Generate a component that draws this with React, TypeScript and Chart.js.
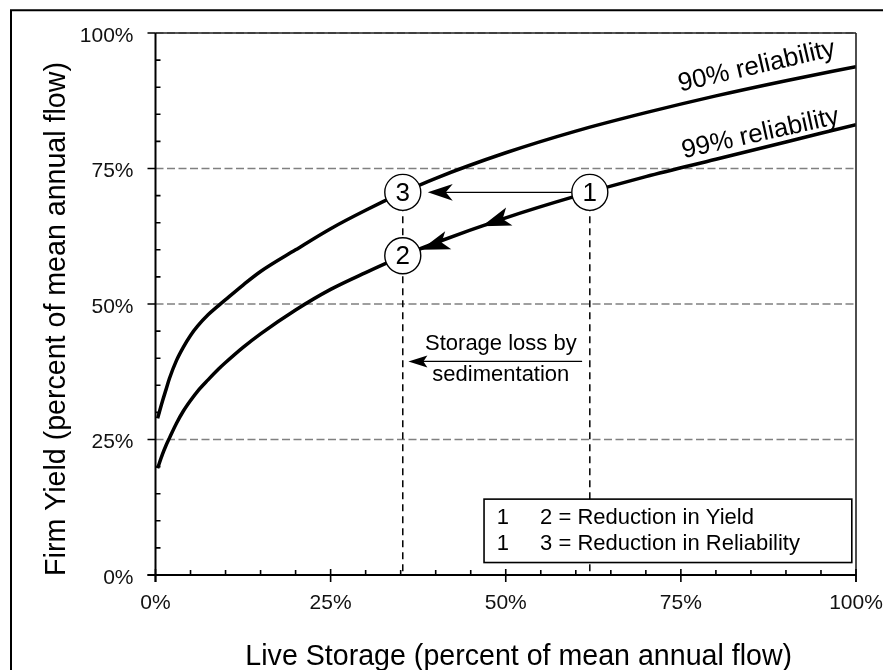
import React, { useEffect, useRef } from 'react';
import { Chart, registerables } from 'chart.js';

Chart.register(...registerables);

// ---- data ----
const storage = [0.3, 1, 1.5, 2, 3, 4, 5, 6, 7.5, 9, 10, 12.5, 15, 20, 25, 30, 35, 40, 50, 60, 70, 80, 90, 100];
const yield90 = [28.9, 32.1, 34.2, 36.3, 39.6, 42.1, 44.2, 45.9, 48.0, 49.7, 50.8, 53.5, 56.0, 60.0, 63.9, 67.3, 70.4, 73.2, 77.9, 81.9, 85.3, 88.4, 91.2, 93.8];
const yield99 = [19.7, 22.3, 23.9, 25.3, 28.0, 30.3, 32.2, 33.9, 36.0, 38.0, 39.2, 42.0, 44.5, 48.9, 52.7, 55.8, 58.7, 61.3, 65.9, 69.9, 73.5, 76.7, 79.9, 83.1];
const xTicks = [0, 25, 50, 75, 100];
const yTicks = [0, 25, 50, 75, 100];
const minorStep = 5;
const xTitle = 'Live Storage (percent of mean annual flow)';
const yTitle = 'Firm Yield (percent of mean annual flow)';
const curveLabels = ['90% reliability', '99% reliability'];
const curveLabelAnchors = [
  { x: 74.9, y: 89.2, angle: -13 },
  { x: 75.4, y: 76.9, angle: -12.5 },
];
const circleLabels = ['1', '2', '3'];
const circlePoints = [
  { x: 62.0, y: 70.6 },
  { x: 35.3, y: 58.9 },
  { x: 35.3, y: 70.6 },
];
const midArrowX = 46.6;
const sedArrow = { from: 60.9, to: 36.1, y: 39.4 };
const sedText = ['Storage loss by', 'sedimentation'];
const sedTextPos = { x: 49.3, y: [41.5, 35.8] };
const legendLines = [
  ['1', '2 = Reduction in Yield'],
  ['1', '3 = Reduction in Reliability'],
];
const legendBox = { left: 46.9, right: 99.4, top: 14.0, bottom: 2.3 };
const legendTextX = [48.7, 54.9];
const legendTextY = [9.5, 4.6];

const FONT = "'Liberation Sans', Arial, Helvetica, sans-serif";

function arrowHead(ctx: CanvasRenderingContext2D, tx: number, ty: number, ang: number, len: number, hw: number, notch: number) {
  const dx = Math.cos(ang), dy = Math.sin(ang);
  const px = -dy, py = dx;
  const bx = tx - dx * len, by = ty - dy * len;
  const nx = tx - dx * (len - notch), ny = ty - dy * (len - notch);
  ctx.beginPath();
  ctx.moveTo(tx, ty);
  ctx.lineTo(bx + px * hw, by + py * hw);
  ctx.lineTo(nx, ny);
  ctx.lineTo(bx - px * hw, by - py * hw);
  ctx.closePath();
  ctx.fill();
}

function interp(xs: number[], ys: number[], x: number) {
  for (let i = 0; i < xs.length - 1; i++) {
    if (x >= xs[i] && x <= xs[i + 1]) {
      const t = (x - xs[i]) / (xs[i + 1] - xs[i]);
      return ys[i] + t * (ys[i + 1] - ys[i]);
    }
  }
  return ys[ys.length - 1];
}

const decor = {
  id: 'decor',
  beforeDraw(chart: any) {
    const ctx = chart.ctx as CanvasRenderingContext2D;
    ctx.save();
    ctx.fillStyle = '#fff';
    ctx.fillRect(0, 0, chart.width, chart.height);
    ctx.strokeStyle = '#000';
    ctx.lineWidth = 2;
    ctx.beginPath();
    ctx.moveTo(11, chart.height + 5);
    ctx.lineTo(11, 10.3);
    ctx.lineTo(chart.width + 5, 10.3);
    ctx.stroke();
    ctx.restore();
  },
  beforeDatasetsDraw(chart: any) {
    const ctx = chart.ctx as CanvasRenderingContext2D;
    const { left, right } = chart.chartArea;
    const xs = chart.scales.x, ys = chart.scales.y;
    ctx.save();
    ctx.strokeStyle = '#808080';
    ctx.lineWidth = 1.3;
    ctx.setLineDash([8, 3.5]);
    yTicks.forEach((v) => {
      if (v === 0) return;
      const y = ys.getPixelForValue(v);
      ctx.beginPath();
      ctx.moveTo(left, y);
      ctx.lineTo(right, y);
      ctx.stroke();
    });
    ctx.strokeStyle = '#000';
    ctx.lineWidth = 1.5;
    ctx.setLineDash([7, 5]);
    [circlePoints[2], circlePoints[0]].forEach((p) => {
      const x = xs.getPixelForValue(p.x);
      ctx.beginPath();
      ctx.moveTo(x, ys.getPixelForValue(p.y));
      ctx.lineTo(x, ys.getPixelForValue(0));
      ctx.stroke();
    });
    ctx.restore();
  },
  afterDatasetsDraw(chart: any) {
    const ctx = chart.ctx as CanvasRenderingContext2D;
    const { left, right, top, bottom } = chart.chartArea;
    const xs = chart.scales.x, ys = chart.scales.y;
    const X = (v: number) => xs.getPixelForValue(v);
    const Y = (v: number) => ys.getPixelForValue(v);
    ctx.save();
    ctx.setLineDash([]);
    ctx.fillStyle = '#000';

    // top & right border
    ctx.strokeStyle = '#222';
    ctx.lineWidth = 1.6;
    ctx.beginPath();
    ctx.moveTo(left, top);
    ctx.lineTo(right, top);
    ctx.moveTo(right, top);
    ctx.lineTo(right, bottom + 7);
    ctx.stroke();

    // axes
    ctx.strokeStyle = '#000';
    ctx.lineWidth = 2;
    ctx.beginPath();
    ctx.moveTo(left, top);
    ctx.lineTo(left, bottom + 7);
    ctx.moveTo(left - 8, bottom);
    ctx.lineTo(right, bottom);
    ctx.stroke();

    // ticks
    ctx.lineWidth = 1.6;
    ctx.beginPath();
    for (let v = 0; v <= 100; v += minorStep) {
      const y = Y(v);
      if (yTicks.includes(v)) { ctx.moveTo(left - 8, y); ctx.lineTo(left, y); }
      else { ctx.moveTo(left, y); ctx.lineTo(left + 5, y); }
      const x = X(v);
      if (xTicks.includes(v)) { ctx.moveTo(x, bottom - 6); ctx.lineTo(x, bottom + 7); }
      else { ctx.moveTo(x, bottom - 5); ctx.lineTo(x, bottom); }
    }
    ctx.stroke();

    // arrow 1 -> 3 (horizontal)
    const r = 18;
    const c1 = { x: X(circlePoints[0].x), y: Y(circlePoints[0].y) };
    const c2 = { x: X(circlePoints[1].x), y: Y(circlePoints[1].y) };
    const c3 = { x: X(circlePoints[2].x), y: Y(circlePoints[2].y) };
    ctx.lineWidth = 1.3;
    ctx.beginPath();
    ctx.moveTo(c1.x - r, c1.y);
    ctx.lineTo(c3.x + r + 12, c3.y);
    ctx.stroke();
    arrowHead(ctx, c3.x + r + 7, c3.y, Math.PI, 25, 8.3, 7);

    // arrows along 99% curve from 1 to 2
    const ang12 = Math.atan2(c2.y - c1.y, c2.x - c1.x);
    const mx = X(midArrowX), my = Y(interp(storage, yield99, midArrowX));
    const angMid = Math.atan2(Y(interp(storage, yield99, midArrowX - 3)) - my, X(midArrowX - 3) - mx);
    arrowHead(ctx, mx, my, angMid, 29, 9.5, 7);
    arrowHead(ctx, c2.x - Math.cos(ang12) * (r + 1), c2.y - Math.sin(ang12) * (r + 1), ang12, 29, 9.5, 7);

    // sedimentation arrow
    const sy = Y(sedArrow.y);
    ctx.lineWidth = 1.3;
    ctx.beginPath();
    ctx.moveTo(X(sedArrow.from), sy);
    ctx.lineTo(X(sedArrow.to) + 10, sy);
    ctx.stroke();
    arrowHead(ctx, X(sedArrow.to), sy, Math.PI, 19, 6, 4);
    ctx.font = `22px ${FONT}`;
    ctx.textAlign = 'center';
    ctx.textBaseline = 'alphabetic';
    sedText.forEach((t, i) => ctx.fillText(t, X(sedTextPos.x), Y(sedTextPos.y[i])));

    // circles
    [c1, c2, c3].forEach((c, i) => {
      ctx.beginPath();
      ctx.arc(c.x, c.y, r, 0, Math.PI * 2);
      ctx.fillStyle = '#fff';
      ctx.fill();
      ctx.lineWidth = 1.4;
      ctx.strokeStyle = '#000';
      ctx.stroke();
      ctx.fillStyle = '#000';
      ctx.font = `26px ${FONT}`;
      ctx.textAlign = 'center';
      ctx.textBaseline = 'middle';
      ctx.fillText(circleLabels[i], c.x, c.y + 1);
    });

    // curve labels
    ctx.font = `26px ${FONT}`;
    ctx.textAlign = 'left';
    ctx.textBaseline = 'alphabetic';
    curveLabels.forEach((t, i) => {
      const a = curveLabelAnchors[i];
      ctx.save();
      ctx.translate(X(a.x), Y(a.y));
      ctx.rotate((a.angle * Math.PI) / 180);
      ctx.fillText(t, 0, 0);
      ctx.restore();
    });

    // legend box
    const bl = X(legendBox.left), br = X(legendBox.right), bt = Y(legendBox.top), bb = Y(legendBox.bottom);
    ctx.fillStyle = '#fff';
    ctx.fillRect(bl, bt, br - bl, bb - bt);
    ctx.strokeStyle = '#000';
    ctx.lineWidth = 1.6;
    ctx.strokeRect(bl, bt, br - bl, bb - bt);
    ctx.fillStyle = '#000';
    ctx.font = `22px ${FONT}`;
    ctx.textAlign = 'left';
    legendLines.forEach((line, i) => {
      line.forEach((t, j) => ctx.fillText(t, X(legendTextX[j]), Y(legendTextY[i])));
    });

    // axis titles
    ctx.font = `28.6px ${FONT}`;
    ctx.textAlign = 'center';
    ctx.textBaseline = 'alphabetic';
    ctx.fillText(xTitle, (left + right) / 2 + 13, chart.height - 5);
    ctx.save();
    ctx.translate(65, (top + bottom) / 2 + 15);
    ctx.rotate(-Math.PI / 2);
    ctx.fillText(yTitle, 0, 0);
    ctx.restore();

    ctx.restore();
  },
};

export default function App() {
  const ref = useRef<HTMLCanvasElement>(null);
  useEffect(() => {
    if (!ref.current) return;
    const toXY = (ys: number[]) => storage.map((x, i) => ({ x, y: ys[i] }));
    const chart = new Chart(ref.current, {
      type: 'line',
      data: {
        datasets: [
          { label: curveLabels[0], data: toXY(yield90), borderColor: '#000', borderWidth: 3.5, pointRadius: 0, cubicInterpolationMode: 'monotone', fill: false },
          { label: curveLabels[1], data: toXY(yield99), borderColor: '#000', borderWidth: 3.5, pointRadius: 0, cubicInterpolationMode: 'monotone', fill: false },
        ],
      },
      options: {
        animation: false,
        responsive: false,
        maintainAspectRatio: false,
        layout: { padding: { top: 33, right: 27, left: 0, bottom: 0 } },
        plugins: { legend: { display: false }, tooltip: { enabled: false } },
        scales: {
          x: {
            type: 'linear',
            min: 0,
            max: 100,
            afterFit: (s: any) => { s.height = 95; s.paddingLeft = 0; s.paddingRight = 0; },
            afterBuildTicks: (s: any) => { s.ticks = xTicks.map((v) => ({ value: v })); },
            grid: { display: false, drawTicks: false },
            border: { display: false },
            ticks: { padding: 16, color: '#111', font: { family: FONT, size: 21 }, maxRotation: 0, autoSkip: false, callback: (v: any) => `${v}%` },
          },
          y: {
            type: 'linear',
            min: 0,
            max: 100,
            afterFit: (s: any) => { s.width = 155.5; s.paddingTop = 0; s.paddingBottom = 0; },
            afterBuildTicks: (s: any) => { s.ticks = yTicks.map((v) => ({ value: v })); },
            grid: { display: false, drawTicks: false },
            border: { display: false },
            ticks: { padding: 22, labelOffset: 3, color: '#111', font: { family: FONT, size: 21 }, autoSkip: false, callback: (v: any) => `${v}%` },
          },
        },
      },
      plugins: [decor],
    });
    return () => chart.destroy();
  }, []);
  return (
    <div style={{ position: 'absolute', left: 0, top: 0, width: 883, height: 670 }}>
      <canvas ref={ref} width={883} height={670} style={{ display: 'block' }} />
    </div>
  );
}
